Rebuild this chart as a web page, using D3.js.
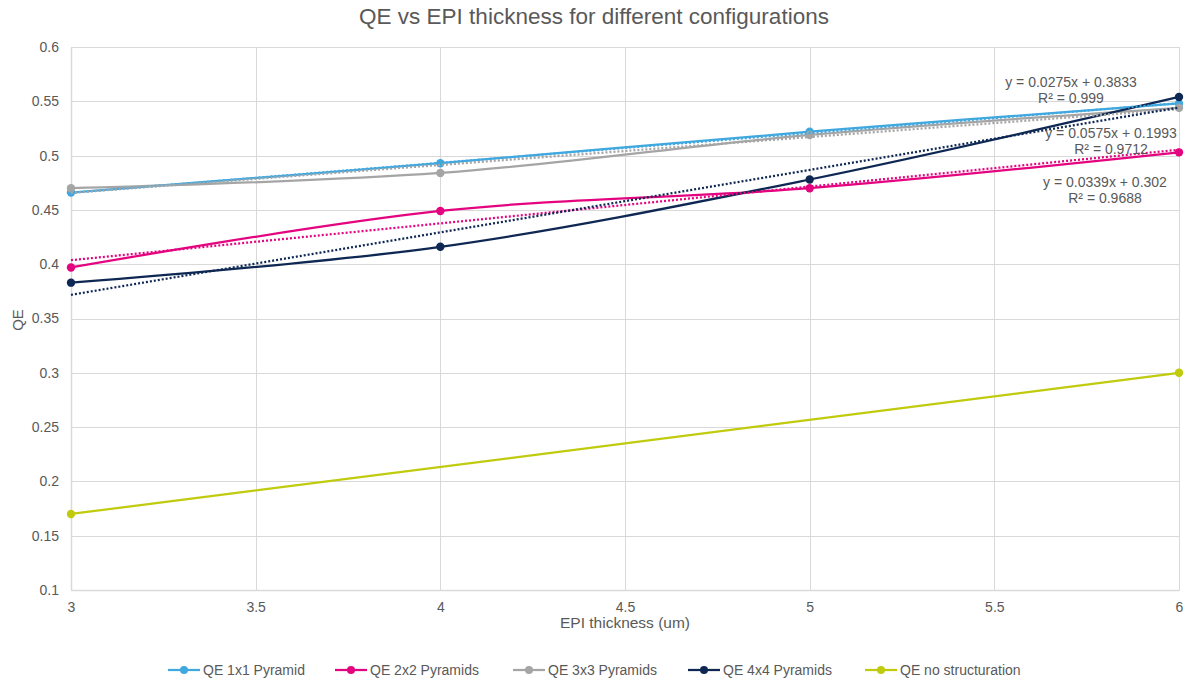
<!DOCTYPE html>
<html>
<head>
<meta charset="utf-8">
<script src="https://cdn.jsdelivr.net/npm/d3@7"></script>
<style>
  html, body { margin: 0; padding: 0; background: #ffffff; }
  svg { display: block; font-family: "Liberation Sans", Arial, sans-serif; }
</style>
</head>
<body>
<svg id="chart" width="1186" height="680"></svg>
<script>
// ---- Data ----
const epiThickness = [3, 4, 5, 6];
const qe1x1 = [0.466, 0.493, 0.522, 0.548];
const qe2x2 = [0.397, 0.449, 0.470, 0.503];
const qe3x3 = [0.470, 0.484, 0.519, 0.544];
const qe4x4 = [0.383, 0.416, 0.478, 0.554];
const noStructX = [3, 6];
const qeNoStruct = [0.170, 0.300];

const seriesNames = ["QE 1x1 Pyramid", "QE 2x2 Pyramids", "QE 3x3 Pyramids", "QE 4x4 Pyramids", "QE no structuration"];
const seriesColors = ["#41A8DF", "#E4047F", "#A5A5A5", "#0F2853", "#BFCB0C"];

// linear trendlines (slope, intercept) for the first four series
const trendSlopes = [0.0275, 0.0339, 0.0257, 0.0575];
const trendIntercepts = [0.3833, 0.302, 0.3886, 0.1993];
const trendLabels = [
  ["y = 0.0275x + 0.3833", "R² = 0.999"],
  ["y = 0.0339x + 0.302", "R² = 0.9688"],
  null,
  ["y = 0.0575x + 0.1993", "R² = 0.9712"]
];
const trendLabelPos = [[1071, 87], [1105, 187], null, [1111, 138]];

const xTicks = [3, 3.5, 4, 4.5, 5, 5.5, 6];
const yTicks = [0.1, 0.15, 0.2, 0.25, 0.3, 0.35, 0.4, 0.45, 0.5, 0.55, 0.6];

// ---- Layout ----
const svg = d3.select("#chart");
const plotLeft = 71, plotRight = 1179, plotTop = 47, plotBottom = 590;
const x = d3.scaleLinear().domain([3, 6]).range([plotLeft, plotRight]);
const y = d3.scaleLinear().domain([0.1, 0.6]).range([plotBottom, plotTop]);
const textColor = "#595959";
const gridColor = "#D9D9D9";

// Title
svg.append("text").attr("x", 594).attr("y", 24).attr("text-anchor", "middle")
  .attr("font-size", 22.5).attr("fill", textColor)
  .text("QE vs EPI thickness for different configurations");

// Gridlines
const g = svg.append("g");
g.selectAll("line.h").data(yTicks).join("line").attr("class", "h")
  .attr("x1", plotLeft).attr("x2", plotRight)
  .attr("y1", d => Math.round(y(d)) + 0.5).attr("y2", d => Math.round(y(d)) + 0.5)
  .attr("stroke", gridColor).attr("stroke-width", 1);
g.selectAll("line.v").data(xTicks).join("line").attr("class", "v")
  .attr("y1", plotTop).attr("y2", plotBottom)
  .attr("x1", d => Math.round(x(d)) + 0.5).attr("x2", d => Math.round(x(d)) + 0.5)
  .attr("stroke", gridColor).attr("stroke-width", 1);

// Axes (using d3 axis generators, styled)
const yAxis = d3.axisLeft(y).tickValues(yTicks).tickSize(0).tickPadding(12).tickFormat(d => String(+d.toFixed(2)));
const xAxis = d3.axisBottom(x).tickValues(xTicks).tickSize(0).tickPadding(12).tickFormat(d => String(d));
const ya = svg.append("g").attr("transform", `translate(${plotLeft},0)`).call(yAxis);
const xa = svg.append("g").attr("transform", `translate(0,${plotBottom})`).call(xAxis);
[ya, xa].forEach(a => {
  a.select(".domain").attr("stroke", gridColor).attr("stroke-width", 1.5);
  a.selectAll("text").attr("font-size", 14).attr("fill", textColor)
    .attr("font-family", "'Liberation Sans', Arial, sans-serif");
});

// Axis titles
svg.append("text").attr("x", 625).attr("y", 628).attr("text-anchor", "middle")
  .attr("font-size", 15.5).attr("fill", textColor).text("EPI thickness (um)");
svg.append("text").attr("transform", "translate(23,320) rotate(-90)").attr("text-anchor", "middle")
  .attr("font-size", 15).attr("fill", textColor).text("QE");

// Series
const seriesData = [
  epiThickness.map((t, i) => [t, qe1x1[i]]),
  epiThickness.map((t, i) => [t, qe2x2[i]]),
  epiThickness.map((t, i) => [t, qe3x3[i]]),
  epiThickness.map((t, i) => [t, qe4x4[i]]),
  noStructX.map((t, i) => [t, qeNoStruct[i]])
];
const line = d3.line().x(d => x(d[0])).y(d => y(d[1])).curve(d3.curveCatmullRom.alpha(0.5));

seriesData.forEach((data, si) => {
  const sg = svg.append("g");
  sg.append("path").attr("d", line(data)).attr("fill", "none")
    .attr("stroke", seriesColors[si]).attr("stroke-width", 2.25).attr("stroke-linecap", "round");
  sg.selectAll("circle").data(data).join("circle")
    .attr("cx", d => x(d[0])).attr("cy", d => y(d[1])).attr("r", 4.2)
    .attr("fill", seriesColors[si]);
});

// Trendlines
trendSlopes.forEach((m, i) => {
  const pts = [3, 6].map(t => [t, m * t + trendIntercepts[i]]);
  svg.append("path").attr("d", d3.line().x(d => x(d[0])).y(d => y(d[1]))(pts))
    .attr("fill", "none").attr("stroke", seriesColors[i]).attr("stroke-width", 2.25)
    .attr("stroke-dasharray", "2,2");
});

// Trendline labels
trendLabels.forEach((lab, i) => {
  if (!lab) return;
  const [cx, cy] = trendLabelPos[i];
  const t = svg.append("text").attr("text-anchor", "middle").attr("font-size", 14).attr("fill", textColor);
  t.append("tspan").attr("x", cx).attr("y", cy).text(lab[0]);
  t.append("tspan").attr("x", cx).attr("y", cy + 16).text(lab[1]);
});

// Legend
const legendX = [168, 335, 513, 688, 865];
const lg = svg.append("g");
seriesNames.forEach((name, i) => {
  const lx = legendX[i], ly = 670;
  lg.append("line").attr("x1", lx).attr("x2", lx + 32).attr("y1", ly).attr("y2", ly)
    .attr("stroke", seriesColors[i]).attr("stroke-width", 2.25);
  lg.append("circle").attr("cx", lx + 16).attr("cy", ly).attr("r", 4).attr("fill", seriesColors[i]);
  lg.append("text").attr("x", lx + 35).attr("y", ly + 5).attr("font-size", 14)
    .attr("fill", textColor).text(name);
});
</script>
</body>
</html>
